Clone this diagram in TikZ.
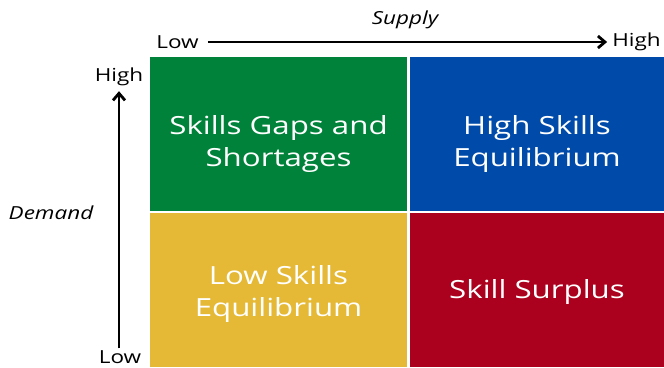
\documentclass[tikz,border=0pt]{standalone}
\usepackage{fontspec}
\setmainfont[FakeStretch=1.25]{Open Sans}
\usetikzlibrary{arrows.meta}
\definecolor{gapgreen}{RGB}{0,130,58}
\definecolor{highblue}{RGB}{0,75,170}
\definecolor{lowyellow}{RGB}{229,185,53}
\definecolor{surplusred}{RGB}{171,0,30}
\begin{document}
\begin{tikzpicture}[x=1pt,y=-1pt,
  quad/.style={minimum height=154pt,inner sep=0pt,outer sep=0pt},
  quadtext/.style={text=white,align=center,font=\fontsize{25}{32}\selectfont},
  axislabel/.style={font=\fontsize{18}{20}\selectfont,inner sep=1pt},
  axisarrow/.style={line width=2.8pt,-{Straight Barb[length=7pt,width=12pt,line width=2.8pt]}}]
 \useasboundingbox (0,0) rectangle (664,367);
 % quadrants
 \node[quad,minimum width=257pt,fill=gapgreen] (gaps) at (278.5,134) {};
 \node[quad,minimum width=254pt,fill=highblue] (highskills) at (537,134) {};
 \node[quad,minimum width=257pt,fill=lowyellow] (lowskills) at (278.5,290) {};
 \node[quad,minimum width=254pt,fill=surplusred] (surplus) at (537,290) {};
 \node[quadtext,yshift=-10pt] (gapstext) at (gaps.center) {Skills Gaps and\\Shortages};
 \node[quadtext,yshift=-10pt] (hightext) at (highskills.center) {High Skills\\Equilibrium};
 \node[quadtext,yshift=-4pt] (lowtext) at (lowskills.center) {Low Skills\\Equilibrium};
 \node[quadtext,yshift=-2pt] (surplustext) at (surplus.center) {Skill Surplus};
 % supply axis
 \node[axislabel] (supplylow) at (177.5,42) {Low};
 \node[axislabel] (supplyhigh) at (636.5,42) {High};
 \node[axislabel,font=\fontsize{18}{20}\selectfont\itshape] (supply) at (405,20) {Supply};
 \draw[axisarrow,shorten <=8pt,shorten >=4pt] (supplylow.east) -- (supplyhigh.west);
 % demand axis
 \node[axislabel] (demandhigh) at (119,77) {High};
 \node[axislabel] (demandlow) at (120,357) {Low};
 \node[axislabel,font=\fontsize{18}{20}\selectfont\itshape] (demand) at (51,213) {Demand};
 \draw[axisarrow,shorten <=1pt,shorten >=4pt] (demandlow.north -| demandhigh.south) -- (demandhigh.south);
\end{tikzpicture}
\end{document}
